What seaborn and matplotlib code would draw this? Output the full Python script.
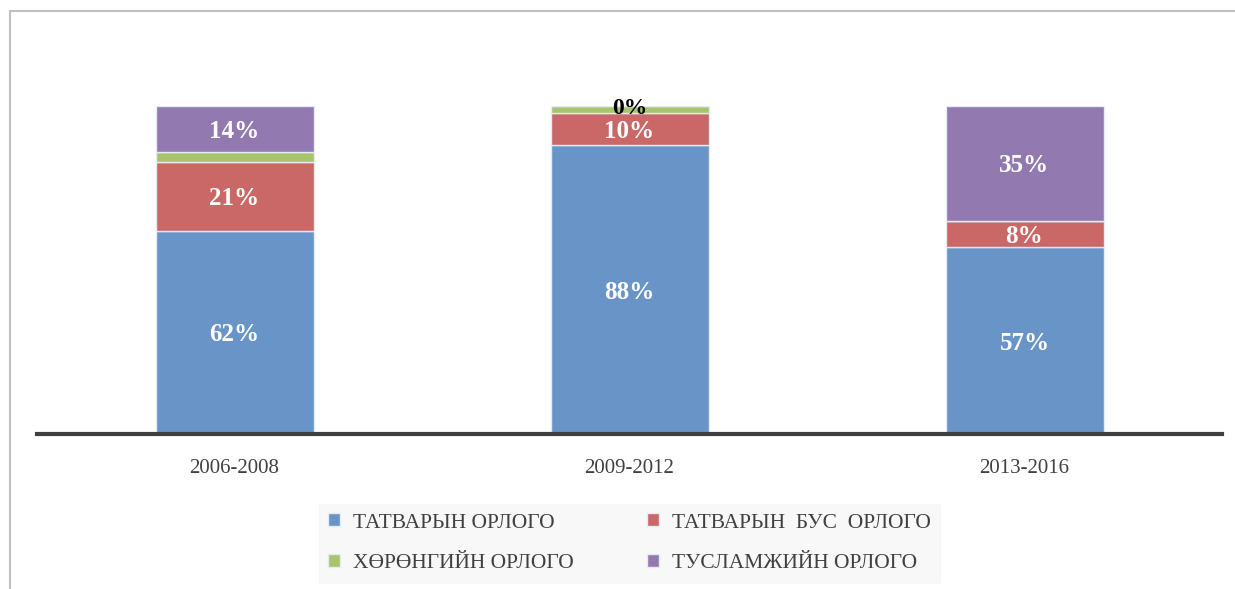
import matplotlib
matplotlib.use("Agg")
import matplotlib.pyplot as plt
import matplotlib.lines as mlines
import seaborn as sns
import numpy as np

periods = ["2006-2008", "2009-2012", "2013-2016"]
series = ["ТАТВАРЫН ОРЛОГО", "ТАТВАРЫН  БУС  ОРЛОГО", "ХӨРӨНГИЙН ОРЛОГО", "ТУСЛАМЖИЙН ОРЛОГО"]
tax = [62, 88, 57]
nontax = [21, 10, 8]
capital = [3, 2, 0]
aid = [14, 0, 35]
tax_lbl = ["62%", "88%", "57%"]
nontax_lbl = ["21%", "10%", "8%"]
capital_lbl = ["", "0%", ""]
aid_lbl = ["14%", "", "35%"]
colors = ["#6894C8", "#C96866", "#A8C46E", "#927AB0"]

sns.set_theme(style="white")
plt.rcParams["font.family"] = ["Liberation Serif", "DejaVu Serif"]

fig = plt.figure(figsize=(12.35, 5.89), dpi=100)
W, H = 1235, 589
# chart area in pixels: left 37, right 1222, top (100%) 106, baseline 434
ax = fig.add_axes([37 / W, 1 - 434 / H, (1222 - 37) / W, (434 - 106) / H])

# frame lines (left and top only are visible in the crop)
fig.lines.append(mlines.Line2D([9.5 / W, 9.5 / W], [0, 1 - 10.5 / H], transform=fig.transFigure,
                               color="#c0c0c0", linewidth=1.5))
fig.lines.append(mlines.Line2D([9.5 / W, 1], [1 - 10.5 / H, 1 - 10.5 / H], transform=fig.transFigure,
                               color="#c0c0c0", linewidth=1.5))

data = [tax, nontax, capital, aid]
labels = [tax_lbl, nontax_lbl, capital_lbl, aid_lbl]
bottom = np.zeros(len(periods))
for vals, lbls, col, name in zip(data, labels, colors, series):
    sns.barplot(x=periods, y=vals, bottom=bottom, color=col, width=0.4, saturation=1,
                edgecolor="#e4ebf5", linewidth=1.0, ax=ax, label=name)
    for i, (v, t) in enumerate(zip(vals, lbls)):
        if not t:
            continue
        if t == "0%":
            # tiny segment: label sits on the top edge, black
            ax.text(i, bottom[i] + v, t, ha="center", va="center_baseline",
                    fontsize=17, fontweight="bold", color="black", clip_on=False)
        else:
            ax.text(i, bottom[i] + v / 2, t, ha="center", va="center_baseline",
                    fontsize=18, fontweight="bold", color="white", clip_on=False)
    bottom = bottom + np.array(vals)

ax.set_xlim(-0.5, 2.5)
ax.set_ylim(0, 100)
ax.set_yticks([])
ax.set_ylabel("")
for s in ["top", "right", "left"]:
    ax.spines[s].set_visible(False)
ax.spines["bottom"].set_color("#404040")
ax.spines["bottom"].set_linewidth(3)
ax.tick_params(axis="x", length=0, pad=18, labelsize=15, labelcolor="#404040")

# row-major order like the original: blue, red / green, purple
handles, names = ax.get_legend_handles_labels()
order = [0, 2, 1, 3]
leg = ax.legend([handles[k] for k in order], [names[k] for k in order],
                loc="upper center", bbox_to_anchor=(0.5, -0.18), ncol=2,
                frameon=True, fontsize=15.5, handlelength=0.55, handleheight=0.55,
                columnspacing=3.4, borderpad=0.45, labelspacing=1.0,
                handletextpad=0.6)
leg.get_frame().set_facecolor("#f7f7f7")
leg.get_frame().set_edgecolor("#f7f7f7")
leg.get_frame().set_boxstyle("square", pad=0)
for t in leg.get_texts():
    t.set_color("#404040")

fig.savefig("out.png", dpi=100)
